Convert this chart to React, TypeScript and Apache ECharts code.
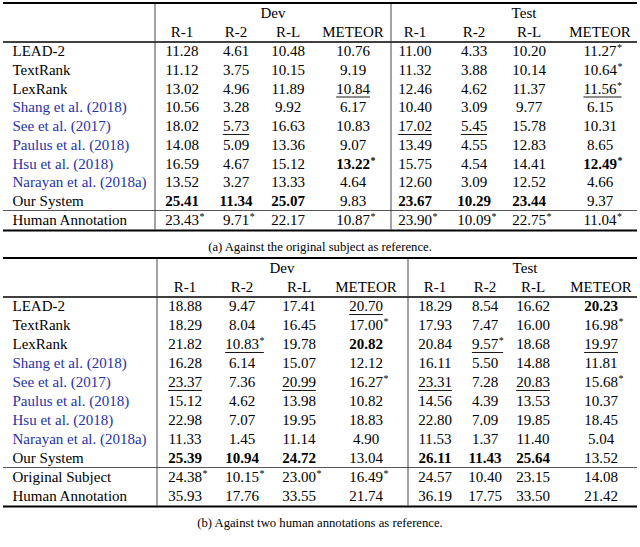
import React, { useEffect, useRef } from "react";
import * as echarts from "echarts";

// ---------- data ----------
const splits = ["Dev", "Test"];
const metrics = ["R-1", "R-2", "R-L", "METEOR"];

const methodsA = [
  "LEAD-2", "TextRank", "LexRank", "Shang et al. (2018)", "See et al. (2017)",
  "Paulus et al. (2018)", "Hsu et al. (2018)", "Narayan et al. (2018a)", "Our System",
  "Human Annotation",
];
const scoresA = [
  [11.28, 4.61, 10.48, 10.76, 11.0, 4.33, 10.2, 11.27],
  [11.12, 3.75, 10.15, 9.19, 11.32, 3.88, 10.14, 10.64],
  [13.02, 4.96, 11.89, 10.84, 12.46, 4.62, 11.37, 11.56],
  [10.56, 3.28, 9.92, 6.17, 10.4, 3.09, 9.77, 6.15],
  [18.02, 5.73, 16.63, 10.83, 17.02, 5.45, 15.78, 10.31],
  [14.08, 5.09, 13.36, 9.07, 13.49, 4.55, 12.83, 8.65],
  [16.59, 4.67, 15.12, 13.22, 15.75, 4.54, 14.41, 12.49],
  [13.52, 3.27, 13.33, 4.64, 12.6, 3.09, 12.52, 4.66],
  [25.41, 11.34, 25.07, 9.83, 23.67, 10.29, 23.44, 9.37],
  [23.43, 9.71, 22.17, 10.87, 23.9, 10.09, 22.75, 11.04],
];
const boldA = ["8:0", "8:1", "8:2", "6:3", "8:4", "8:5", "8:6", "6:7"];
const underA = ["4:1", "2:3", "2:7", "4:4", "4:5"];
const starA = ["0:7", "1:7", "2:7", "6:3", "6:7", "9:0", "9:1", "9:3", "9:4", "9:5", "9:6", "9:7"];

const methodsB = [
  "LEAD-2", "TextRank", "LexRank", "Shang et al. (2018)", "See et al. (2017)",
  "Paulus et al. (2018)", "Hsu et al. (2018)", "Narayan et al. (2018a)", "Our System",
  "Original Subject", "Human Annotation",
];
const scoresB = [
  [18.88, 9.47, 17.41, 20.7, 18.29, 8.54, 16.62, 20.23],
  [18.29, 8.04, 16.45, 17.0, 17.93, 7.47, 16.0, 16.98],
  [21.82, 10.83, 19.78, 20.82, 20.84, 9.57, 18.68, 19.97],
  [16.28, 6.14, 15.07, 12.12, 16.11, 5.5, 14.88, 11.81],
  [23.37, 7.36, 20.99, 16.27, 23.31, 7.28, 20.83, 15.68],
  [15.12, 4.62, 13.98, 10.82, 14.56, 4.39, 13.53, 10.37],
  [22.98, 7.07, 19.95, 18.83, 22.8, 7.09, 19.85, 18.45],
  [11.33, 1.45, 11.14, 4.9, 11.53, 1.37, 11.4, 5.04],
  [25.39, 10.94, 24.72, 13.04, 26.11, 11.43, 25.64, 13.52],
  [24.38, 10.15, 23.0, 16.49, 24.57, 10.4, 23.15, 14.08],
  [35.93, 17.76, 33.55, 21.74, 36.19, 17.75, 33.5, 21.42],
];
const boldB = ["0:7", "2:3", "8:0", "8:1", "8:2", "8:4", "8:5", "8:6"];
const underB = ["0:3", "2:1", "2:5", "2:7", "4:0", "4:2", "4:4", "4:6"];
const starB = ["1:3", "1:7", "2:1", "2:5", "4:3", "4:7", "9:0", "9:1", "9:2", "9:3"];

const citedRows = [3, 4, 5, 6, 7];
const captionA = "(a) Against the original subject as reference.";
const captionB = "(b) Against two human annotations as reference.";

// ---------- layout / style ----------
const FAMILY = "Liberation Serif";
const FS = 15;
const BLACK = "#000";
const BLUE = "#2632a6";

let measureCtx: CanvasRenderingContext2D | null = null;
function textWidth(t: string, bold: boolean, size: number) {
  if (!measureCtx) measureCtx = document.createElement("canvas").getContext("2d");
  measureCtx!.font = `${bold ? "bold " : ""}${size}px "${FAMILY}"`;
  return measureCtx!.measureText(t).width;
}

function txt(text: string, x: number, y: number, opts: any = {}) {
  return {
    type: "text",
    x,
    y,
    silent: true,
    style: {
      text,
      fontFamily: FAMILY,
      fontSize: opts.size || FS,
      fontWeight: opts.bold ? "bold" : "normal",
      fill: opts.color || BLACK,
      align: opts.align || "center",
      verticalAlign: "middle",
    },
  };
}

function hline(x1: number, x2: number, y: number, w: number, color = BLACK) {
  return { type: "line", silent: true, shape: { x1, y1: y, x2, y2: y }, style: { stroke: color, lineWidth: w } };
}
function vline(x: number, y1: number, y2: number, w: number, color = "#333") {
  return { type: "line", silent: true, shape: { x1: x, y1, x2: x, y2 }, style: { stroke: color, lineWidth: w } };
}

function buildTable(cfg: {
  top: number; centers: number[]; vlines: number[]; splitX: number[]; rowH: number;
  methods: string[]; scores: number[][]; bold: string[]; under: string[]; star: string[];
  mainRows: number; caption: string; captionY: number;
}) {
  const els: any[] = [];
  const L = 3, R = 637;
  const { top, centers, rowH } = cfg;
  const rowY: number[] = [];
  for (let i = 0; i < cfg.methods.length; i++) {
    if (i < cfg.mainRows) rowY.push(top + 48 + i * rowH);
    else rowY.push(top + 48 + (cfg.mainRows - 1) * rowH + 19 * (i - cfg.mainRows + 1));
  }
  const lastMain = rowY[cfg.mainRows - 1];
  const bottom = rowY[rowY.length - 1] + 10.5;
  // rules
  els.push(hline(L, R, top, 2));
  els.push(hline(L, R, top + 39, 1.6));
  els.push(hline(L, R, lastMain + 9.5, 0.9, "#444"));
  els.push(hline(L, R, bottom, 2));
  cfg.vlines.forEach((x) => els.push(vline(x, top + 1, bottom - 1, 0.9)));
  // headers
  splits.forEach((s, i) => els.push(txt(s, cfg.splitX[i], top + 10)));
  centers.forEach((cx, j) => els.push(txt(metrics[j % 4], cx, top + 28.5)));
  // rows
  cfg.methods.forEach((m, i) => {
    els.push(txt(m, 12.5, rowY[i], { align: "left", color: citedRows.includes(i) ? BLUE : BLACK }));
    cfg.scores[i].forEach((v, j) => {
      const key = `${i}:${j}`;
      const bold = cfg.bold.includes(key);
      const s = v.toFixed(2);
      const cx = centers[j];
      els.push(txt(s, cx, rowY[i], { bold }));
      const w = textWidth(s, bold, FS);
      const hasStar = cfg.star.includes(key);
      if (hasStar) els.push(txt("*", cx + w / 2 + 0.5, rowY[i] - 3.5, { align: "left", size: 10, bold }));
      if (cfg.under.includes(key)) {
        const extra = hasStar ? 5 : 0;
        els.push(hline(cx - w / 2, cx + w / 2 + extra, rowY[i] + 8.5, 0.9));
      }
    });
  });
  els.push(txt(cfg.caption, 320, cfg.captionY, { size: 12.7 }));
  return els;
}

export default function App() {
  const ref = useRef<HTMLDivElement>(null);
  useEffect(() => {
    if (!ref.current) return;
    const chart = echarts.init(ref.current, undefined, { renderer: "svg" });
    const graphic = [
      ...buildTable({
        top: 3, centers: [182, 236, 288, 353, 415, 474, 529, 600], vlines: [155, 391],
        splitX: [273, 524], rowH: 18.75, methods: methodsA, scores: scoresA,
        bold: boldA, under: underA, star: starA, mainRows: 9, caption: captionA, captionY: 247,
      }),
      ...buildTable({
        top: 258, centers: [185, 242, 299, 366, 435, 485, 533, 601], vlines: [157, 408],
        splitX: [282, 525], rowH: 19, methods: methodsB, scores: scoresB,
        bold: boldB, under: underB, star: starB, mainRows: 9, caption: captionB, captionY: 523,
      }),
    ];
    chart.setOption({ animation: false, backgroundColor: "#fff", graphic });
    return () => chart.dispose();
  }, []);
  return (
    <div
      ref={ref}
      style={{ position: "fixed", left: 0, top: 0, width: 640, height: 547, background: "#fff" }}
    />
  );
}
